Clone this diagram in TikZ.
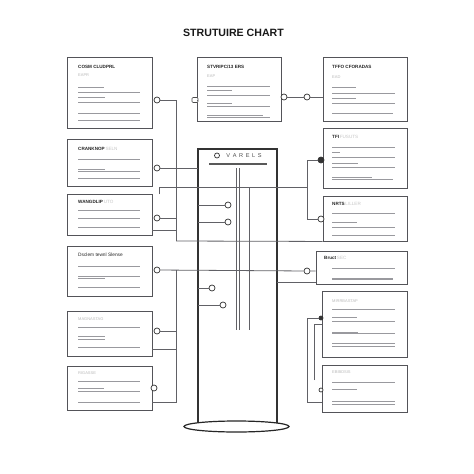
\documentclass[tikz,border=0pt]{standalone}
\usepackage{fontspec}
\setmainfont{Liberation Sans}
\usetikzlibrary{shapes.geometric}
\newlength{\du}
\setlength{\du}{1\unitlength}
\definecolor{dialinecolor}{rgb}{0.330000, 0.330000, 0.350000}
\definecolor{rulecolor}{rgb}{0.600000, 0.600000, 0.620000}
\definecolor{wirecolor}{rgb}{0.380000, 0.380000, 0.400000}
\tikzset{
  card/.style={draw=dialinecolor, line width=0.9\du, fill=white, inner sep=0pt},
  cardtitle/.style={anchor=west, inner sep=0pt, text=black!85, font=\bfseries\fontsize{4.6}{5}\selectfont},
  cardsub/.style={anchor=west, inner sep=0pt, text=gray!55, font=\fontsize{4}{5}\selectfont},
  rule/.style={draw=rulecolor, line width=0.8\du},
  wire/.style={draw=wirecolor, line width=0.8\du},
  port/.style={circle, draw=black!80, fill=white, line width=0.7\du, inner sep=0pt, minimum size=6\du},
  tab/.style={draw=black!70, fill=white, line width=0.7\du, inner sep=0pt, minimum width=6\du, minimum height=5\du, rounded corners=1\du},
}

\begin{document}
\begin{tikzpicture}
\pgftransformxscale{1.000000}
\pgftransformyscale{-1.000000}
\useasboundingbox[fill=white] (0\du,0\du) rectangle (474\du,474\du);
% setfont left to latex
\node[font=\bfseries\fontsize{10.6}{12}\selectfont, text=black!90] (title) at (233.5\du,33\du){STRUTUIRE CHART};

% left column cards
\node[card, minimum width=85\du, minimum height=71\du] (cosm) at (109.5\du,92.5\du){};
\node[cardtitle] (cosm-t) at (78\du,67\du){COSM CLUDPRL};
\node[cardsub] (cosm-s) at (78\du,75.5\du){EAPR};
\draw[rule] (78\du,87\du)--(104\du,87\du);
\draw[rule] (78\du,92.5\du)--(140\du,92.5\du);
\draw[rule] (78\du,97.5\du)--(105\du,97.5\du);
\draw[rule] (78\du,102.5\du)--(140\du,102.5\du);
\draw[rule] (78\du,113\du)--(140\du,113\du);
\draw[rule] (78\du,120.5\du)--(140\du,120.5\du);

\node[card, minimum width=85\du, minimum height=47\du] (crank) at (109.5\du,162.5\du){};
\node[cardtitle] (crank-t) at (78\du,149\du){CRANKNOP\,{\color{gray!45}\mdseries SELN}};
\draw[rule] (78\du,159\du)--(140\du,159\du);
\draw[rule] (78\du,169\du)--(105\du,169\du);
\draw[rule] (78\du,171\du)--(140\du,171\du);
\draw[rule] (78\du,178\du)--(140\du,178\du);

\node[card, minimum width=85\du, minimum height=41\du] (wing) at (109.5\du,214.5\du){};
\node[cardtitle] (wing-t) at (78\du,202\du){WANGDLIP\,{\color{gray!45}\mdseries UTO}};
\draw[rule] (78\du,210\du)--(140\du,210\du);
\draw[rule] (78\du,218\du)--(140\du,218\du);
\draw[rule] (78\du,227\du)--(140\du,227\du);

\node[card, minimum width=85\du, minimum height=50\du] (dsclem) at (109.5\du,271\du){};
\node[cardtitle, font=\fontsize{4.8}{5}\selectfont] (dsclem-t) at (78\du,255\du){Dsclem tewnl Slense};
\draw[rule] (78\du,266\du)--(140\du,266\du);
\draw[rule] (78\du,276\du)--(140\du,276\du);
\draw[rule] (78\du,278.5\du)--(105\du,278.5\du);
\draw[rule] (78\du,287\du)--(140\du,287\du);

\node[card, minimum width=85\du, minimum height=45\du] (mag) at (109.5\du,333.5\du){};
\node[cardsub] (mag-t) at (78\du,319\du){MAGNASTAG};
\draw[rule] (78\du,327\du)--(140\du,327\du);
\draw[rule] (78\du,336\du)--(105\du,336\du);
\draw[rule] (78\du,339\du)--(105\du,339\du);
\draw[rule] (78\du,347\du)--(140\du,347\du);

\node[card, minimum width=85\du, minimum height=44\du] (rigas) at (109.5\du,388\du){};
\node[cardsub] (rigas-t) at (78\du,373\du){RIGASSE};
\draw[rule] (78\du,381\du)--(140\du,381\du);
\draw[rule] (78\du,388\du)--(104\du,388\du);
\draw[rule] (78\du,391\du)--(140\du,391\du);
\draw[rule] (78\du,402\du)--(140\du,402\du);

% top middle card
\node[card, minimum width=84\du, minimum height=64\du] (strv) at (239\du,89\du){};
\node[cardtitle] (strv-t) at (207\du,67\du){STVRIPC/13 ERS};
\node[cardsub] (strv-s) at (207\du,76\du){EAP};
\draw[rule] (207\du,86\du)--(270\du,86\du);
\draw[rule] (207\du,90.7\du)--(232\du,90.7\du);
\draw[rule] (207\du,95.7\du)--(270\du,95.7\du);
\draw[rule] (207\du,103\du)--(232\du,103\du);
\draw[rule] (207\du,106.7\du)--(270\du,106.7\du);
\draw[rule] (207\du,115\du)--(263\du,115\du);
\draw[rule] (207\du,117\du)--(270\du,117\du);

% right column cards
\node[card, minimum width=84\du, minimum height=64\du] (tffo) at (365\du,89\du){};
\node[cardtitle] (tffo-t) at (332\du,67\du){TFFO CFORADAS};
\node[cardsub] (tffo-s) at (332\du,77\du){EAD};
\draw[rule] (332\du,87\du)--(356\du,87\du);
\draw[rule] (332\du,93\du)--(395\du,93\du);
\draw[rule] (332\du,98\du)--(356\du,98\du);
\draw[rule] (332\du,103\du)--(395\du,103\du);
\draw[rule] (332\du,113\du)--(393\du,113\du);

\node[card, minimum width=84\du, minimum height=60\du] (tfi) at (365\du,158\du){};
\node[cardtitle] (tfi-t) at (332\du,137\du){TFI\,{\color{gray!45}\mdseries FUSUTS}};
\draw[rule] (332\du,147\du)--(395\du,147\du);
\draw[rule] (332\du,152\du)--(340\du,152\du);
\draw[rule] (332\du,157\du)--(395\du,157\du);
\draw[rule] (332\du,163\du)--(358\du,163\du);
\draw[rule] (332\du,167\du)--(395\du,167\du);
\draw[rule] (332\du,177\du)--(372\du,177\du);
\draw[rule] (332\du,179\du)--(393\du,179\du);

\node[card, minimum width=84\du, minimum height=45\du] (nrts) at (365\du,218.5\du){};
\node[cardtitle] (nrts-t) at (332\du,204\du){NRTS\,{\color{gray!45}\mdseries LILLER}};
\draw[rule] (332\du,213\du)--(395\du,213\du);
\draw[rule] (332\du,222\du)--(357\du,222\du);
\draw[rule] (332\du,227\du)--(395\du,227\du);
\draw[rule] (332\du,235\du)--(395\du,235\du);

\node[card, minimum width=91\du, minimum height=33\du] (bruct) at (361.5\du,267.5\du){};
\node[cardtitle] (bruct-t) at (324\du,258\du){Bruct\,{\color{gray!45}\mdseries SEC}};
\draw[rule] (332\du,268\du)--(395\du,268\du);
\draw[rule] (332\du,278\du)--(393\du,278\du);
\draw[rule] (332\du,279.5\du)--(393\du,279.5\du);

\node[card, minimum width=85\du, minimum height=66\du] (mirr) at (364.5\du,324\du){};
\node[cardsub] (mirr-t) at (332\du,301\du){MIRRBASTAP};
\draw[rule] (332\du,309\du)--(395\du,309\du);
\draw[rule] (332\du,317\du)--(357\du,317\du);
\draw[rule] (332\du,321\du)--(395\du,321\du);
\draw[rule] (332\du,332\du)--(358\du,332\du);
\draw[rule] (332\du,333.5\du)--(395\du,333.5\du);
\draw[rule] (332\du,343\du)--(395\du,343\du);
\draw[rule] (332\du,346\du)--(395\du,346\du);

\node[card, minimum width=85\du, minimum height=47\du] (ebib) at (364.5\du,388.5\du){};
\node[cardsub] (ebib-t) at (332\du,372\du){EBIBDSIS};
\draw[rule] (332\du,382\du)--(395\du,382\du);
\draw[rule] (332\du,389\du)--(357\du,389\du);
\draw[rule] (332\du,401\du)--(395\du,401\du);
\draw[rule] (332\du,404\du)--(395\du,404\du);

% vessel column
\draw[draw=black!80, line width=1.1\du] (198\du,425\du)--(198\du,149\du)--(277\du,149\du)--(277\du,425\du);
\coordinate (vessel-nw) at (198\du,149\du);
\node[port, minimum size=5\du] (vessel-dot) at (217\du,155.5\du){};
\node[inner sep=0pt, font=\fontsize{5.6}{6}\selectfont, text=black!70] (vessel-t) at (244\du,156\du){V\hspace{2.6\du}A\hspace{2.6\du}R\hspace{2.6\du}E\hspace{2.6\du}L\hspace{2.6\du}S};
\draw[draw=black!65, line width=1.3\du] (209\du,164\du)--(267\du,164\du);
\draw[wire] (236\du,168\du)--(236\du,330\du);
\draw[wire] (239\du,168\du)--(239\du,330\du);
\draw[wire] (249\du,187\du)--(249\du,330\du);

% ports
\node[port] (cosm-p) at (157\du,100\du){};
\node[port] (crank-p) at (157\du,168\du){};
\node[port] (wing-p) at (157\du,218\du){};
\node[port] (dsclem-p) at (157\du,270\du){};
\node[port] (mag-p) at (157\du,331\du){};
\node[port] (rigas-p) at (154\du,388\du){};
\node[tab] (strv-in) at (195\du,100\du){};
\node[port] (strv-p) at (284\du,97\du){};
\node[port] (tffo-p) at (307\du,97\du){};
\node[port, fill=black!80] (tfi-p) at (321\du,160\du){};
\node[port] (nrts-p) at (321\du,219\du){};
\node[port] (bruct-p) at (307\du,271\du){};
\node[port, fill=black!80, minimum size=4\du] (mirr-p) at (321\du,318\du){};
\node[port, minimum size=4\du] (ebib-p) at (321\du,390\du){};
\node[port] (vessel-p1) at (228\du,205\du){};
\node[port] (vessel-p2) at (228\du,222\du){};
\node[port] (vessel-p3) at (212\du,288\du){};
\node[port] (vessel-p4) at (223\du,305\du){};

% bend points
\coordinate (busa-top) at (176\du,100\du);
\coordinate (busa-bot) at (176\du,241\du);
\coordinate (busb-top) at (176\du,270\du);
\coordinate (busb-bot) at (176\du,402\du);
\coordinate (busr-top) at (307\du,160\du);
\coordinate (busr-bot) at (307\du,219\du);
\coordinate (busm-top) at (307\du,318\du);
\coordinate (busm-bot) at (307\du,402\du);

% connectors
\draw[wire] (cosm-p)--(busa-top)--(busa-bot);
\draw[wire] (crank-p)--(vessel-nw |- crank-p);
\draw[wire] (159\du,194\du)--(159\du,187\du)--(307\du,187\du);
\draw[wire] (wing-p)--(wing-p -| busa-top);
\draw[wire] (wing.east |- 0,230\du)--(176\du,230\du);
\draw[wire] (busa-bot)--(nrts.south west);
\draw[wire] (tfi-p)--(busr-top)--(busr-bot)--(nrts-p);
\draw[wire] (strv-in)--(strv.west |- strv-in);
\draw[wire] (strv-p)--(tffo-p)--(tffo.west |- tffo-p);
\draw[wire] (198\du,205\du)--(vessel-p1);
\draw[wire] (198\du,222\du)--(vessel-p2);
\draw[wire] (198\du,288\du)--(vessel-p3);
\draw[wire] (198\du,305\du)--(vessel-p4);
\draw[wire] (dsclem-p)--(bruct-p)--(bruct.west |- bruct-p);
\draw[wire] (277\du,282\du)--(bruct.west |- 0,282\du);
\draw[wire] (busb-top)--(busb-bot)--(rigas.east |- busb-bot);
\draw[wire] (mag-p)--(mag-p -| busb-top);
\draw[wire] (mag.east |- 0,349\du)--(176\du,349\du);
\draw[wire] (mirr-p)--(busm-top)--(busm-bot)--(ebib.west |- busm-bot);
\draw[wire] (314\du,380\du)--(314\du,324\du)--(mirr.west |- 0,324\du);

% base
\node[ellipse, draw=black!85, fill=white, line width=1.2\du, minimum width=105\du, minimum height=11\du, inner sep=0pt] (base) at (236.5\du,426.5\du){};
\end{tikzpicture}
\end{document}
